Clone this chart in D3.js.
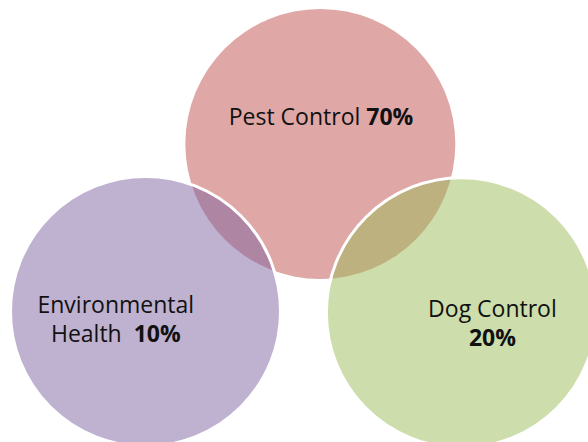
<!DOCTYPE html>
<html>
<head>
<meta charset="utf-8">
<script src="https://cdn.jsdelivr.net/npm/d3@7"></script>
<style>
  html, body { margin: 0; padding: 0; background: #fff; }
  svg { display: block; }
  text { font-family: "Open Sans", "Noto Sans", sans-serif; fill: #111; }
</style>
</head>
<body>
<svg id="chart" width="588" height="442"></svg>
<script>
// data
const names = ["Pest Control", "Environmental Health", "Dog Control"];
const shares = [70, 10, 20];
const labelLines = [["Pest Control"], ["Environmental", "Health"], ["Dog Control"]];
const colors = ["#C0504D", "#8064A2", "#9BBB59"];

// layout of the three circles, in radius units (x right, y down)
const layout = [
  { cx: -0.005, cy: 0, lx: 0, ly: -0.2, pctInline: true },
  { cx: -1.3, cy: 1.24, lx: -1.52, ly: 1.3, pctInline: true },
  { cx: 1.04, cy: 1.25, lx: 1.27, ly: 1.33, pctInline: false }
];

const svg = d3.select("#chart");
const r = 135;

const x = d3.scaleLinear().domain([0, 1]).range([321, 321 + r]);
const y = d3.scaleLinear().domain([0, 1]).range([144, 144 + r]);

const items = names.map((n, i) => ({
  name: n, share: shares[i], lines: labelLines[i], color: colors[i], ...layout[i], i
}));

const g = svg.append("g");

g.selectAll("circle")
  .data(items)
  .join("circle")
  .attr("cx", d => x(d.cx))
  .attr("cy", d => y(d.cy))
  .attr("r", r)
  .attr("fill", d => d.color)
  .attr("fill-opacity", 0.5)
  .attr("stroke", d => d.i === 0 ? "none" : "#fff")
  .attr("stroke-width", 3);

const fontSize = 23, lineH = 29;

items.forEach(d => {
  const t = g.append("text")
    .attr("x", x(d.lx))
    .attr("y", y(d.ly))
    .attr("text-anchor", "middle")
    .attr("font-size", fontSize)
    .attr("xml:space", "preserve");

  const nLines = d.lines.length + (d.pctInline ? 0 : 1);
  const y0 = y(d.ly) - (nLines - 1) * lineH / 2 + fontSize * 0.35;

  d.lines.forEach((line, k) => {
    t.append("tspan")
      .attr("x", x(d.lx))
      .attr("y", y0 + k * lineH)
      .text(line + (d.pctInline && k === d.lines.length - 1 ? (d.i === 1 ? "  " : " ") : ""));
    if (d.pctInline && k === d.lines.length - 1) {
      t.append("tspan").attr("font-weight", "bold").text(d.share + "%");
    }
  });
  if (!d.pctInline) {
    t.append("tspan")
      .attr("x", x(d.lx))
      .attr("y", y0 + d.lines.length * lineH)
      .attr("font-weight", "bold")
      .text(d.share + "%");
  }
});
</script>
</body>
</html>
